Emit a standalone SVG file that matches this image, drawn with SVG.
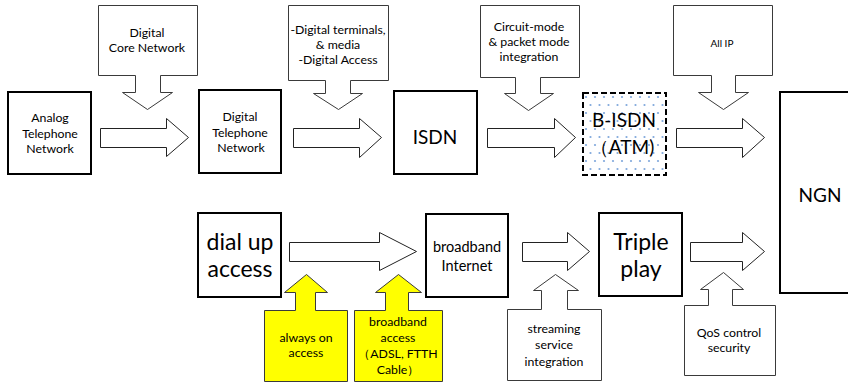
<svg xmlns="http://www.w3.org/2000/svg" width="848" height="384" viewBox="0 0 848 384">
  <style>
    .node { fill: #ffffff; stroke: #000000; stroke-width: 2; }
    .dash { fill: url(#dots); stroke: #000000; stroke-width: 2; stroke-dasharray: 6 3; }
    .callout { fill: #ffffff; stroke: #3a3a3a; stroke-width: 1; }
    .hi { fill: #ffff00; stroke: #3a3a3a; stroke-width: 1; }
    .flow { fill: #ffffff; stroke: #222222; stroke-width: 1; }
    text { font-family: Lato, "Open Sans", "Liberation Sans", sans-serif; fill: #000000; text-anchor: middle; }
    .s { font-size: 12.3px; }
    .xs { font-size: 10px; }
    .m { font-size: 14.5px; }
    .l { font-size: 19px; }
    .xl { font-size: 23px; }
  </style>
  <defs>
    <pattern id="dots" width="9" height="16" patternUnits="userSpaceOnUse" x="583" y="93">
      <rect width="9" height="16" fill="#ffffff"/>
      <circle cx="3" cy="4" r="1.1" fill="#7fa8dc"/>
      <circle cx="7.5" cy="12" r="1.1" fill="#7fa8dc"/>
    </pattern>
  </defs>

  <!-- evolution arrows -->
  <g id="connectors" transform="translate(0.5,0.5)">
    <path class="flow" d="M100,128 H166 V118 L188,137 L166,156 V147 H100 Z"/>
    <path class="flow" d="M293,128 H359 V118 L381,137 L359,157 V147 H293 Z"/>
    <path class="flow" d="M487,128 H554 V118 L575,137 L554,157 V147 H487 Z"/>
    <path class="flow" d="M676,128 H742 V118 L764,137 L742,157 V147 H676 Z"/>
    <path class="flow" d="M289,242 H379 V232 L416,251 L379,270 V261 H289 Z"/>
    <path class="flow" d="M522,242 H567 V232 L589,251 L567,270 V261 H522 Z"/>
    <path class="flow" d="M690,242 H742 V232 L764,251 L742,270 V261 H690 Z"/>
  </g>

  <!-- upper row -->
  <g id="analog">
    <rect class="node" x="8" y="92" width="83" height="82"/>
    <text class="s" x="50" y="122">Analog</text>
    <text class="s" x="50" y="138">Telephone</text>
    <text class="s" x="50" y="153">Network</text>
  </g>
  <g id="core-network">
    <path class="callout" transform="translate(0.5,0.5)" d="M98,5 H197 V75 H160 V92 H172 L147,109 L122,92 H135 V75 H98 Z"/>
    <text class="s" x="147" y="37">Digital</text>
    <text class="s" x="147" y="52">Core Network</text>
  </g>
  <g id="digital-telephone">
    <rect class="node" x="199" y="90" width="82" height="83"/>
    <text class="s" x="240" y="121">Digital</text>
    <text class="s" x="240" y="137">Telephone</text>
    <text class="s" x="241" y="152">Network</text>
  </g>
  <g id="digital-access">
    <path class="callout" transform="translate(0.5,0.5)" d="M288,5 H388 V80 H350 V93 H362 L338,109 L313,93 H325 V80 H288 Z"/>
    <text class="s" x="338" y="34">-Digital terminals,</text>
    <text class="s" x="338" y="49">&amp; media</text>
    <text class="s" x="338" y="64">-Digital Access</text>
  </g>
  <g id="isdn">
    <rect class="node" x="394" y="91" width="83" height="83"/>
    <text class="l" x="435" y="144">ISDN</text>
  </g>
  <g id="mode-integration">
    <path class="callout" transform="translate(0.5,0.5)" d="M480,5 H579 V77 H540 V93 H553 L528,110 L504,93 H515 V77 H480 Z"/>
    <text class="s" x="529" y="31">Circuit-mode</text>
    <text class="s" x="529" y="46">&amp; packet mode</text>
    <text class="s" x="529" y="61">integration</text>
  </g>
  <g id="b-isdn">
    <rect class="dash" x="583" y="93" width="83" height="82"/>
    <text class="l" x="624" y="127">B-ISDN</text>
    <text class="l" x="622" y="154">（ATM)</text>
  </g>
  <g id="all-ip">
    <path class="callout" transform="translate(0.5,0.5)" d="M673,5 H772 V75 H735 V92 H748 L723,109 L698,92 H711 V75 H673 Z"/>
    <text class="xs" x="722" y="47">All IP</text>
  </g>
  <g id="ngn">
    <rect class="node" x="780" y="92" width="80" height="201"/>
    <text class="l" x="820" y="202">NGN</text>
  </g>

  <!-- lower row -->
  <g id="dial-up">
    <rect class="node" x="198" y="213" width="83" height="84"/>
    <text class="xl" x="240" y="250">dial up</text>
    <text class="xl" x="240" y="277">access</text>
  </g>
  <g id="always-on">
    <path class="hi" transform="translate(0.5,0.5)" d="M264,381 H347 V310 H315 V292 H327 L306,274 L284,292 H295 V310 H264 Z"/>
    <text class="s" x="306" y="342">always on</text>
    <text class="s" x="306" y="357">access</text>
  </g>
  <g id="broadband-access">
    <path class="hi" transform="translate(0.5,0.5)" d="M354,381 H442 V310 H408 V292 H421 L398,274 L375,292 H385 V310 H354 Z"/>
    <text class="s" x="398" y="326">broadband</text>
    <text class="s" x="398" y="342">access</text>
    <text class="s" x="398" y="358">（ADSL, FTTH</text>
    <text class="s" x="398" y="374">Cable）</text>
  </g>
  <g id="broadband-internet">
    <rect class="node" x="426" y="214" width="82" height="83"/>
    <text class="m" x="467" y="252">broadband</text>
    <text class="m" x="467" y="271">Internet</text>
  </g>
  <g id="streaming">
    <path class="callout" transform="translate(0.5,0.5)" d="M507,380 H601 V309 H567 V290 H578 L555,274 L533,290 H541 V309 H507 Z"/>
    <text class="s" x="554" y="333">streaming</text>
    <text class="s" x="554" y="349">service</text>
    <text class="s" x="554" y="366">integration</text>
  </g>
  <g id="triple-play">
    <rect class="node" x="599" y="213" width="83" height="83"/>
    <text class="xl" x="641" y="250">Triple</text>
    <text class="xl" x="641" y="277">play</text>
  </g>
  <g id="qos">
    <path class="callout" transform="translate(0.5,0.5)" d="M684,375 H775 V305 H732 V289 H743 L723,272 L700,289 H708 V305 H684 Z"/>
    <text class="s" x="729" y="337">QoS control</text>
    <text class="s" x="729" y="352">security</text>
  </g>
</svg>
